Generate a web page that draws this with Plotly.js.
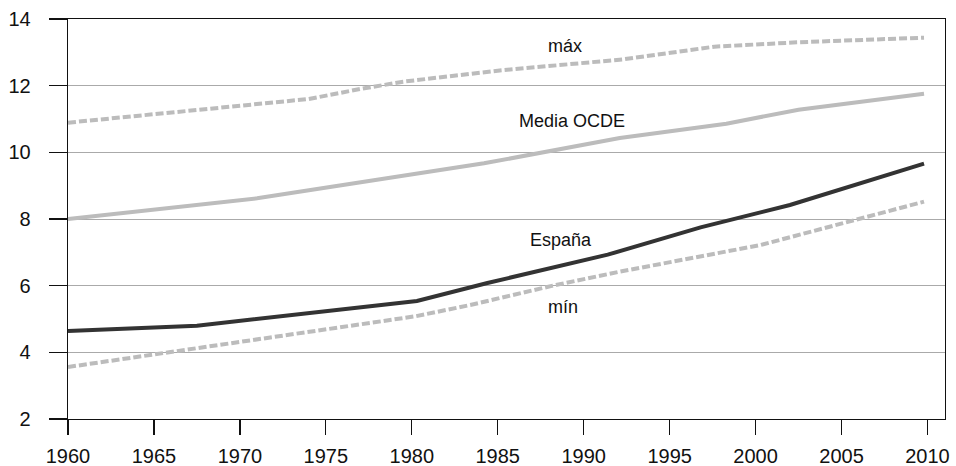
<!DOCTYPE html>
<html>
<head>
<meta charset="utf-8">
<script src="https://cdn.plot.ly/plotly-3.0.1.min.js"></script>
<style>
  html, body { margin: 0; padding: 0; background: #ffffff; }
  #chart { width: 956px; height: 466px; }
</style>
</head>
<body>
<div id="chart"></div>
<script>
// Data (years of schooling)
const maxYears    = [1960, 1974, 1977, 1979.5, 1985, 1990, 1992.3, 1997.6, 2002.4, 2009.8];
const maxValues   = [10.89, 11.60, 11.90, 12.12, 12.45, 12.68, 12.79, 13.17, 13.30, 13.44];

const mediaYears  = [1960, 1971, 1984.2, 1992.1, 1998.3, 2002.5, 2009.8];
const mediaValues = [8.00, 8.62, 9.67, 10.43, 10.86, 11.28, 11.76];

const espYears    = [1960, 1967.5, 1980.3, 1984.4, 1991.4, 1996.8, 2002.0, 2009.8];
const espValues   = [4.64, 4.80, 5.54, 6.08, 6.93, 7.75, 8.42, 9.66];

const minYears    = [1960, 1980.2, 1983.4, 1988.2, 1992.1, 2000.3, 2009.8];
const minValues   = [3.56, 5.08, 5.42, 6.00, 6.42, 7.22, 8.52];

const labelTexts  = ["máx", "Media OCDE", "España", "mín"];
const labelYears  = [1988.9, 1989.3, 1988.7, 1988.8];
const labelValues = [13.19, 10.95, 7.37, 5.36];

const xTickVals = [1960, 1965, 1970, 1975, 1980, 1985, 1990, 1995, 2000, 2005, 2010];
const yTickVals = [2, 4, 6, 8, 10, 12, 14];

const FONT = '"Liberation Sans", Arial, Helvetica, sans-serif';
const GRAY = '#bcbcbc';

const traces = [
  { x: maxYears, y: maxValues, type: 'scatter', mode: 'lines',
    line: { color: GRAY, width: 4, dash: '8px,3px' }, hoverinfo: 'skip' },
  { x: mediaYears, y: mediaValues, type: 'scatter', mode: 'lines',
    line: { color: GRAY, width: 4 }, hoverinfo: 'skip' },
  { x: minYears, y: minValues, type: 'scatter', mode: 'lines',
    line: { color: GRAY, width: 4, dash: '8px,3px' }, hoverinfo: 'skip' },
  { x: espYears, y: espValues, type: 'scatter', mode: 'lines',
    line: { color: '#333333', width: 4 }, hoverinfo: 'skip' }
];

const annotations = labelTexts.map((t, i) => ({
  x: labelYears[i], y: labelValues[i], xref: 'x', yref: 'y',
  text: t, showarrow: false, xanchor: 'center', yanchor: 'middle',
  font: { family: FONT, size: 18, color: '#111111' }
}));

const layout = {
  width: 956, height: 466,
  margin: { l: 68, r: 11, t: 19, b: 47, pad: 0 },
  paper_bgcolor: '#ffffff', plot_bgcolor: '#ffffff',
  showlegend: false,
  font: { family: FONT, size: 20, color: '#111111' },
  xaxis: {
    range: [1960, 2011.02], tickvals: xTickVals, ticktext: xTickVals.map(String),
    showgrid: false, zeroline: false,
    showline: true, linecolor: '#111111', linewidth: 1.3, mirror: true,
    ticks: 'outside', ticklen: 15, tickwidth: 1.3, tickcolor: '#111111',
    ticklabelstandoff: 4,
    tickfont: { family: FONT, size: 20, color: '#111111' }
  },
  yaxis: {
    range: [2, 14], tickvals: yTickVals, ticktext: yTickVals.map(String),
    showgrid: true, gridcolor: '#aaaaaa', gridwidth: 1, zeroline: false,
    showline: true, linecolor: '#111111', linewidth: 1.3, mirror: true,
    ticks: 'outside', ticklen: 18, tickwidth: 1.3, tickcolor: '#111111',
    ticklabelstandoff: 14,
    tickfont: { family: FONT, size: 20, color: '#111111' }
  },
  annotations: annotations
};

Plotly.newPlot('chart', traces, layout, { staticPlot: true, displayModeBar: false });
</script>
</body>
</html>
